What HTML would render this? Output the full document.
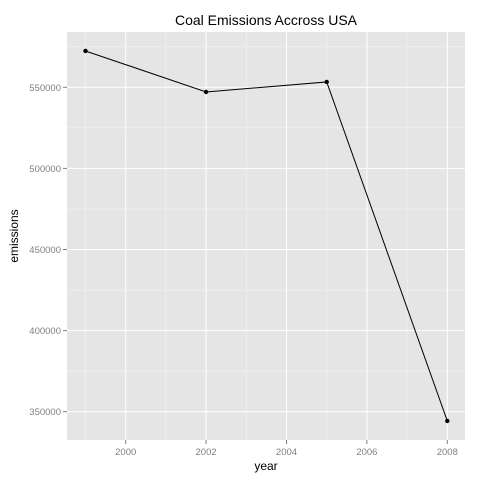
<!DOCTYPE html>
<html><head><meta charset="utf-8"><style>body{margin:0;background:#fff}svg{display:block;font-family:"Liberation Sans",sans-serif}</style></head>
<body>
<svg id="c" width="480" height="480"></svg>
<script>
const years=[1999,2002,2005,2008];
const emissions=[572400,547100,553300,344300];
const xTicks=[2000,2002,2004,2006,2008];
const yTicks=[350000,400000,450000,500000,550000];
const ns="http://www.w3.org/2000/svg",svg=document.getElementById('c');
function el(t,a,p){const e=document.createElementNS(ns,t);for(const k in a)e.setAttribute(k,a[k]);(p||svg).appendChild(e);return e;}
const L=67,R=465,T=32,B=440;
const x=v=>125.7+(v-2000)*40.2;
const y=v=>411.7-(v-350000)/50000*81.1;
const bg=el('rect',{x:L,y:T,width:R-L,height:B-T,fill:'#e5e5e5'});

for(let i=0;i<xTicks.length;i++){const m=xTicks[i]+1;if(x(m)<R){const g=el('line',{x1:x(m),x2:x(m),y1:T,y2:B,stroke:'#f2f2f2','stroke-width':0.7});}
 const m0=xTicks[i]-1;if(i==0&&x(m0)>L){const g=el('line',{x1:x(m0),x2:x(m0),y1:T,y2:B,stroke:'#f2f2f2','stroke-width':0.7});}}
for(let i=0;i<yTicks.length;i++){const m=yTicks[i]+25000;if(y(m)>T){const g=el('line',{x1:L,x2:R,y1:y(m),y2:y(m),stroke:'#f2f2f2','stroke-width':0.7});}}
{const m=325000;if(y(m)<B){const g=el('line',{x1:L,x2:R,y1:y(m),y2:y(m),stroke:'#f2f2f2','stroke-width':0.7});}}
xTicks.forEach(v=>{const g=el('line',{x1:x(v),x2:x(v),y1:T,y2:B,stroke:'#fff','stroke-width':1});
 const tk=el('line',{x1:x(v),x2:x(v),y1:B,y2:B+4,stroke:'#7f7f7f'});
 const t=el('text',{x:x(v),y:B+15,'text-anchor':'middle','font-size':9.5,fill:'#7f7f7f'});t.textContent=v;});
yTicks.forEach(v=>{const g=el('line',{x1:L,x2:R,y1:y(v),y2:y(v),stroke:'#fff','stroke-width':1});
 const tk=el('line',{x1:L-4,x2:L,y1:y(v),y2:y(v),stroke:'#7f7f7f'});
 const t=el('text',{x:L-6,y:y(v)+3.5,'text-anchor':'end','font-size':9.5,fill:'#7f7f7f'});t.textContent=v;});
const ln=el('polyline',{points:years.map((v,i)=>x(v)+','+y(emissions[i])).join(' '),fill:'none',stroke:'#000','stroke-width':1});

years.forEach((v,i)=>{const c=el('circle',{cx:x(v),cy:y(emissions[i]),r:2.2,fill:'#000'});});
const tt=el('text',{x:(L+R)/2,y:25,'text-anchor':'middle','font-size':14,fill:'#000'});tt.textContent='Coal Emissions Accross USA';
const xt=el('text',{x:(L+R)/2,y:470,'text-anchor':'middle','font-size':12,fill:'#000'});xt.textContent='year';
const yt=el('text',{x:0,y:0,'text-anchor':'middle','font-size':12,fill:'#000',transform:'translate(18,'+((T+B)/2)+') rotate(-90)'});yt.textContent='emissions';
</script>
</body></html>
